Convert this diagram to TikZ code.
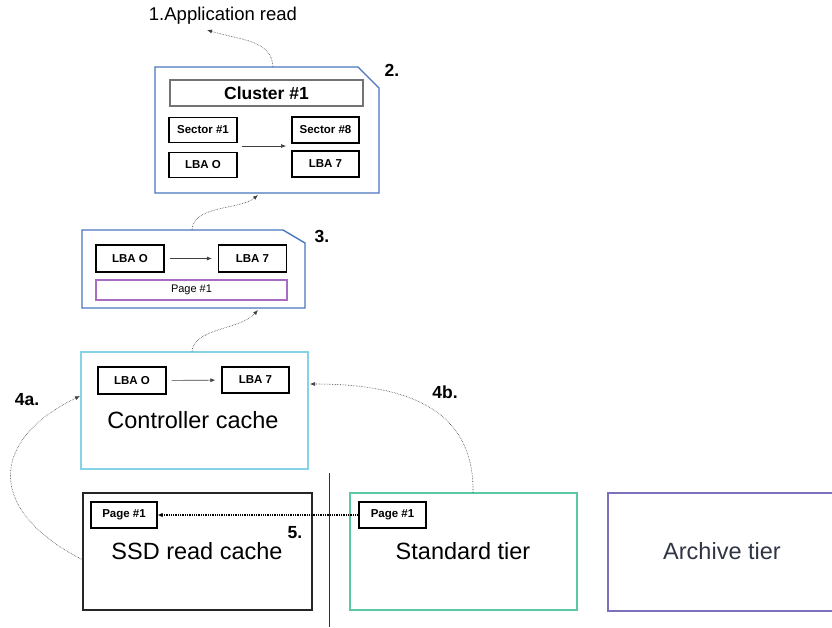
\documentclass[tikz,border=0pt]{standalone}
\usepackage{fontspec}
\setmainfont{Liberation Sans}
\usetikzlibrary{arrows.meta,positioning}
\definecolor{blueb}{HTML}{4A74C0}
\definecolor{cyanb}{HTML}{86D3E8}
\definecolor{greenb}{HTML}{5CC9A5}
\definecolor{purpb}{HTML}{7A70BC}
\definecolor{pagep}{HTML}{A86CC0}
\definecolor{darkt}{HTML}{2F3545}
\tikzset{
  px/.style={x=1pt,y=-1pt},
  small/.style={draw=black,line width=1.2pt,inner sep=0pt,font=\fontsize{11.5}{13}\selectfont\bfseries},
  num/.style={font=\fontsize{17.5}{20}\selectfont\bfseries},
  biglabel/.style={font=\fontsize{23.5}{28}\selectfont},
  dotarrow/.style={densely dotted,line width=0.6pt,draw=black!75,-{Latex[length=5pt,width=4pt]}},
  solarrow/.style={line width=0.6pt,draw=black!75,-{Latex[length=5pt,width=4pt]},shorten <=5pt,shorten >=6pt}
}
\begin{document}
\begin{tikzpicture}[px]
\useasboundingbox (0,0) rectangle (832,627);
% --- text 1
\node[font=\fontsize{18.5}{22}\selectfont] (app) at (223,16) {1.Application read};
\coordinate (apptip) at (207,30);
% --- box 2
\node[minimum width=224pt,minimum height=126pt,inner sep=0pt] (b2) at (267,130) {};
\draw[blueb,line width=1.4pt] (155,67) -- (358,67) -- (379,88) -- (379,193) -- (155,193) -- cycle;
\node[num] (n2) at (392,70) {2.};
\node[draw=black!55,line width=1.4pt,minimum width=193pt,minimum height=26pt,inner sep=0pt,font=\fontsize{17.5}{20}\selectfont\bfseries] (cl) at (266.5,93) {Cluster \#1};
\node[small,minimum width=68pt,minimum height=25pt] (s1) at (203,130) {Sector \#1};
\node[small,minimum width=68pt,minimum height=25pt] (l0a) at (203,165) {LBA O};
\node[small,minimum width=67pt,minimum height=26pt] (s8) at (325.5,130) {Sector \#8};
\node[small,minimum width=67pt,minimum height=26pt] (l7a) at (325.5,164) {LBA 7};
\coordinate (a2s) at (242,146);
\coordinate (a2e) at (286,146);
\draw[line width=0.6pt,draw=black!75,-{Latex[length=5pt,width=4pt]}] (a2s) -- (a2e);
% --- box 3
\node[minimum width=223pt,minimum height=78pt,inner sep=0pt] (b3) at (193.5,269) {};
\draw[blueb,line width=1.4pt] (82,230) -- (283,230) -- (305,243) -- (305,308) -- (82,308) -- cycle;
\node[num] (n3) at (322,236) {3.};
\node[small,minimum width=68pt,minimum height=27pt] (l0b) at (130,258.5) {LBA O};
\node[small,minimum width=68pt,minimum height=27pt] (l7b) at (252.5,258.5) {LBA 7};
\draw[solarrow] (l0b) -- (l7b);
\node[draw=pagep,line width=1.3pt,minimum width=191pt,minimum height=20pt,inner sep=0pt,font=\fontsize{11}{13}\selectfont] (pg3) at (191.5,290) {Page \#1};
% --- controller cache
\node[draw=cyanb,line width=1.5pt,minimum width=227pt,minimum height=117pt,inner sep=0pt] (cc) at (194.5,410.5) {};
\node[small,minimum width=68pt,minimum height=27pt] (l0c) at (132,380.5) {LBA O};
\node[small,minimum width=67pt,minimum height=26pt] (l7c) at (255.5,380) {LBA 7};
\draw[solarrow] (l0c) -- (l7c);
\node[biglabel] (cct) at (193,420) {Controller cache};
% --- labels 4a 4b
\node[num] (n4a) at (27,400) {4a.};
\node[num] (n4b) at (445,392) {4b.};
% --- separator
\coordinate (sepT) at (329,473);
\coordinate (sepB) at (329,627);
\draw[black!80,line width=0.8pt] (sepT) -- (sepB);
% --- SSD read cache
\node[draw=black!85,line width=1.4pt,minimum width=229pt,minimum height=117pt,inner sep=0pt] (ssd) at (197.5,551.5) {};
\node[small,minimum width=66pt,minimum height=26pt] (pgs) at (124,515) {Page \#1};
\node[num] (n5) at (295,533) {5.};
\node[biglabel] (ssdt) at (197,551) {SSD read cache};
% --- Standard tier
\node[draw=greenb,line width=1.5pt,minimum width=227pt,minimum height=117pt,inner sep=0pt] (std) at (463.5,551.5) {};
\node[small,minimum width=67pt,minimum height=26pt] (pgt) at (392.5,515) {Page \#1};
\node[biglabel] (stdt) at (463,551) {Standard tier};
% --- Archive tier
\node[draw=purpb,line width=1.5pt,minimum width=232pt,minimum height=118pt,inner sep=0pt] (arc) at (724,552) {};
\node[biglabel,text=darkt] (arct) at (722,551) {Archive tier};
% --- dotted connectors
\coordinate (c2top) at (273,67);
\draw[dotarrow] (c2top) .. controls (272,40) and (240,40) .. (apptip);
\coordinate (b3top) at (192,230);
\coordinate (b2bot) at (258,195);
\draw[dotarrow] (b3top) .. controls (193,205) and (240,210) .. (b2bot);
\coordinate (cctop) at (192,352);
\coordinate (b3bot) at (258,310);
\draw[dotarrow] (cctop) .. controls (193,328) and (240,330) .. (b3bot);
\coordinate (ssdl) at (83,560);
\coordinate (ccl) at (80,396);
\draw[dotarrow] (ssdl) .. controls (-15,510) and (-10,440) .. (ccl);
\coordinate (stdtop) at (473,493);
\coordinate (ccr) at (310,384);
\draw[dotarrow] (stdtop) .. controls (475,400) and (390,384) .. (ccr);
\draw[densely dotted,line width=1.3pt,-{Latex[length=5pt,width=4.5pt]}] (pgt) -- (pgs);
\end{tikzpicture}
\end{document}
